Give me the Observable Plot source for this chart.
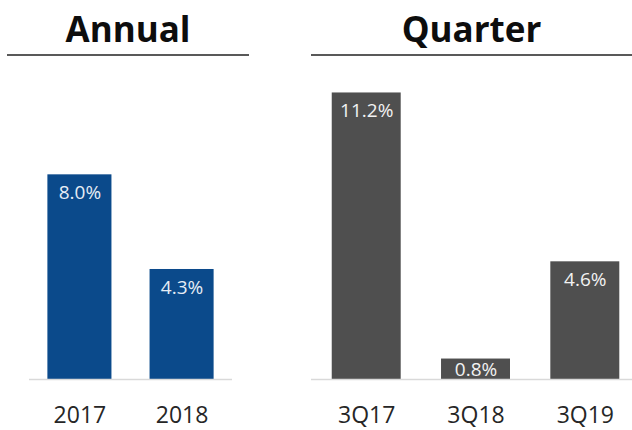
<!DOCTYPE html>
<html>
<head>
<meta charset="utf-8">
<script src="https://cdn.jsdelivr.net/npm/d3@7"></script>
<script src="https://cdn.jsdelivr.net/npm/@observablehq/plot@0.6"></script>
<style>
  html, body { margin: 0; padding: 0; background: #ffffff; }
  #wrap { position: relative; width: 632px; height: 430px; overflow: hidden; font-family: "Open Sans", sans-serif; }
  .title { position: absolute; top: 5px; font-weight: 700; font-size: 35px; line-height: 47px; color: #0d0d0d; text-align: center; }
  .uline { position: absolute; top: 54px; height: 2px; background: #595959; }
  .panel { position: absolute; top: 0; }
</style>
</head>
<body>
<div id="wrap">
  <div class="title" style="left:7px;width:242px;">Annual</div>
  <div class="uline" style="left:7px;width:242px;"></div>
  <div class="title" style="left:311px;width:321px;">Quarter</div>
  <div class="uline" style="left:311px;width:321px;"></div>
  <div class="panel" id="left" style="left:0;"></div>
  <div class="panel" id="right" style="left:250px;"></div>
</div>
<script>
const annualCats = ["2017", "2018"];
const annualVals = [8.0, 4.3];
const quarterCats = ["3Q17", "3Q18", "3Q19"];
const quarterVals = [11.2, 0.8, 4.6];

const annual = annualCats.map((c, i) => ({cat: c, value: annualVals[i]}));
const quarter = quarterCats.map((c, i) => ({cat: c, value: quarterVals[i]}));
const fmt = d => d3.format(".1f")(d.value) + "%";

function panel(data, cats, opts) {
  const tall = data.filter(d => d.value >= 1.5);
  const short = data.filter(d => d.value < 1.5);
  return Plot.plot({
    width: opts.width,
    height: 430,
    marginLeft: opts.marginLeft,
    marginRight: opts.marginRight,
    marginTop: 72,
    marginBottom: 51,
    style: {fontFamily: "Open Sans", fontSize: "23px", color: "#262626", background: "transparent", overflow: "visible"},
    x: {domain: cats, padding: opts.padding, paddingOuter: opts.paddingOuter, align: opts.align, round: false, tickSize: 0, tickPadding: 27, label: null},
    y: {domain: [0, 12], axis: null},
    marks: [
      Plot.barY(data, {x: "cat", y: "value", fill: opts.fill}),
      Plot.ruleY([0], {stroke: "#d9d9d9", strokeWidth: 1.5}),
      Plot.text(tall, {x: "cat", y: "value", text: fmt, dy: 18, fill: opts.textFill, fontSize: 19}),
      Plot.text(short, {x: "cat", y: "value", text: fmt, dy: 11, fill: opts.textFill, fontSize: 19})
    ]
  });
}

document.getElementById("left").appendChild(panel(annual, annualCats, {
  width: 250, marginLeft: 29, marginRight: 18,
  padding: 0.373, paddingOuter: 0.18, align: 0.5,
  fill: "#0b4a8b", textFill: "#e6edf5"
}));
document.getElementById("right").appendChild(panel(quarter, quarterCats, {
  width: 382, marginLeft: 61, marginRight: 0,
  padding: 0.369, paddingOuter: 0.153, align: 0.62,
  fill: "#4f4f4f", textFill: "#f2f2f2"
}));
</script>
</body>
</html>
